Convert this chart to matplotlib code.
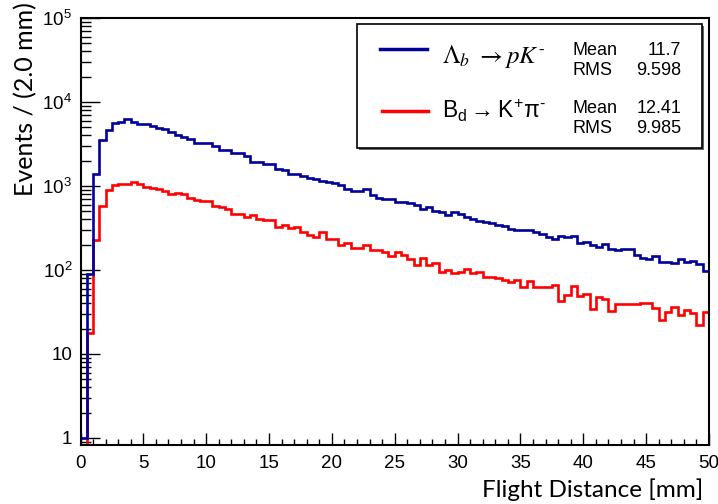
import numpy as np
import matplotlib
matplotlib.use("Agg")
import matplotlib.pyplot as plt
from matplotlib.patches import Rectangle
from matplotlib.lines import Line2D
from matplotlib.ticker import FixedLocator, FixedFormatter, MultipleLocator

# ---------------- data ----------------
bin_width = 0.5
x_min, x_max = 0.0, 50.0

lambda_b_counts = [
    1, 90, 1400, 3530, 4640, 5620, 5830, 6220, 5830, 5450,
    5450, 5250, 4970, 4730, 4430, 4045, 3860, 3600, 3220, 3220,
    3220, 2980, 2683, 2683, 2450, 2450, 2277, 1940, 1940, 1845,
    1845, 1615, 1545, 1389, 1389, 1315, 1256, 1200, 1155, 1110,
    1075, 1028, 913, 872, 872, 913, 781, 726, 694, 694,
    639, 639, 622, 594, 532, 557, 508, 494, 452, 484,
    464, 424, 408, 386, 369, 359, 340, 330, 310, 300,
    300, 300, 280, 265, 247, 236, 252, 247, 252, 212,
    215, 199, 188, 206, 178, 173, 178, 178, 151, 140,
    135, 147, 126, 126, 120, 134, 126, 128, 118, 97,
]
bd_counts = [
    0, 18, 225, 583, 896, 1028, 1060, 1065, 1125, 1050,
    981, 955, 921, 872, 796, 830, 796, 726, 690, 663,
    663, 581, 557, 537, 468, 468, 428, 446, 410, 394,
    394, 328, 340, 314, 325, 286, 261, 245, 286, 235,
    235, 199, 208, 181, 181, 199, 173, 173, 165, 148,
    165, 151, 134, 115, 138, 115, 120, 95.5, 100, 93,
    95.5, 103, 91, 95.5, 82, 82, 80, 76, 72, 76,
    62, 73, 62, 62, 62, 66, 43, 50, 64, 49,
    52, 34, 48, 45, 32.5, 39, 39, 39, 39, 40,
    40, 35.5, 25.4, 32, 36.6, 29, 33, 30.5, 22.3, 31.3,
]
lambda_label = r'$\Lambda_b\ \rightarrow pK^{\text{-}}$'
bd_label = r'$\mathregular{B_d \rightarrow K^{+}\pi^{\text{-}}}$'
lambda_stats = ("11.7", "9.598")
bd_stats = ("12.41", "9.985")
x_ticks = [0, 5, 10, 15, 20, 25, 30, 35, 40, 45, 50]
y_ticks = [1, 10, 100, 1000, 10000, 100000]
y_tick_labels = ['1', '10', r'$\mathregular{10^{2}}$', r'$\mathregular{10^{3}}$',
                 r'$\mathregular{10^{4}}$', r'$\mathregular{10^{5}}$']
x_title = "Flight Distance [mm]"
y_title = "Events / (2.0 mm)"

# ---------------- style ----------------
plt.rcParams['font.family'] = ['Liberation Sans', 'DejaVu Sans']
plt.rcParams['mathtext.fontset'] = 'custom'
plt.rcParams['mathtext.rm'] = 'Liberation Sans'
plt.rcParams['mathtext.it'] = 'Liberation Sans:italic'
plt.rcParams['mathtext.bf'] = 'Liberation Sans:bold'

W, H = 718, 504
fig = plt.figure(figsize=(W / 100, H / 100), dpi=100)
L, R, T, B = 80.5, 709, 18, 445
ax = fig.add_axes([L / W, 1 - B / H, (R - L) / W, (B - T) / H])

edges = np.arange(len(lambda_b_counts) + 1) * bin_width + x_min
blue = '#000099'
red = '#ff0000'
ax.stairs(lambda_b_counts, edges, color=blue, lw=1.9, baseline=None, zorder=3)
ax.stairs(bd_counts, edges, color=red, lw=1.9, baseline=None, zorder=2)

ax.set_yscale('log')
ax.set_xlim(x_min, x_max)
ax.set_ylim(0.825, 1e5)

ax.xaxis.set_major_locator(FixedLocator(x_ticks))
ax.xaxis.set_minor_locator(MultipleLocator(1))
ax.set_xticklabels([str(v) for v in x_ticks])
ax.yaxis.set_major_locator(FixedLocator(y_ticks))
ax.yaxis.set_major_formatter(FixedFormatter(y_tick_labels))
ax.yaxis.set_minor_locator(matplotlib.ticker.LogLocator(base=10, subs=np.arange(2, 10), numticks=20))
ax.yaxis.set_minor_formatter(matplotlib.ticker.NullFormatter())

ax.tick_params(axis='both', which='both', direction='in', top=False, right=False, color='black')
ax.tick_params(axis='x', which='major', length=9, width=1.0, labelsize=13.5, pad=7)
ax.tick_params(axis='x', which='minor', length=4.5, width=1.0)
ax.tick_params(axis='y', which='major', length=14, width=1.0, labelsize=13.5, pad=6)
ax.tick_params(axis='y', which='minor', length=7, width=1.0)
for s in ax.spines.values():
    s.set_linewidth(1.5)
    s.set_color('black')

# axis titles
fig.text(26 / W, 1 - 2 / H, y_title, rotation=90, ha='center', va='top',
         fontsize=18, family=['Lato', 'DejaVu Sans'])
fig.text(703 / W, 1 - 490 / H, x_title, ha='right', va='center',
         fontsize=17.5, family=['Lato', 'DejaVu Sans'])

# legend box
def fx(px):
    return px / W
def fy(py):
    return 1 - py / H

bx0, bx1, by0, by1 = 357, 702, 24, 148
shadow = Rectangle((fx(bx0 + 2), fy(by1 + 2)), fx(bx1 - bx0), (by1 - by0) / H,
                   transform=fig.transFigure, facecolor='#666666', edgecolor='none', zorder=5)
box = Rectangle((fx(bx0), fy(by1)), fx(bx1 - bx0), (by1 - by0) / H,
                transform=fig.transFigure, facecolor='white', edgecolor='black', lw=1.2, zorder=6)
fig.add_artist(shadow)
fig.add_artist(box)

fig.add_artist(Line2D([fx(380), fx(427)], [fy(49), fy(49)], transform=fig.transFigure,
                      color=blue, lw=2.5, zorder=7))
fig.add_artist(Line2D([fx(382), fx(428)], [fy(111), fy(111)], transform=fig.transFigure,
                      color=red, lw=2.5, zorder=7))

fig.text(fx(442), fy(63), lambda_label, ha='left', va='baseline', fontsize=18,
         math_fontfamily='stix', zorder=7)
fig.text(fx(442), fy(118), bd_label, ha='left', va='baseline', fontsize=16.5, zorder=7)

for (mean, rms), ym, yr in [(lambda_stats, 55, 75), (bd_stats, 113, 133)]:
    fig.text(fx(572), fy(ym), "Mean", ha='left', va='baseline', fontsize=13, zorder=7)
    fig.text(fx(572), fy(yr), "RMS", ha='left', va='baseline', fontsize=13, zorder=7)
    fig.text(fx(681), fy(ym), mean, ha='right', va='baseline', fontsize=13, zorder=7)
    fig.text(fx(681), fy(yr), rms, ha='right', va='baseline', fontsize=13, zorder=7)

fig.savefig('out.png', dpi=100, facecolor='white')
